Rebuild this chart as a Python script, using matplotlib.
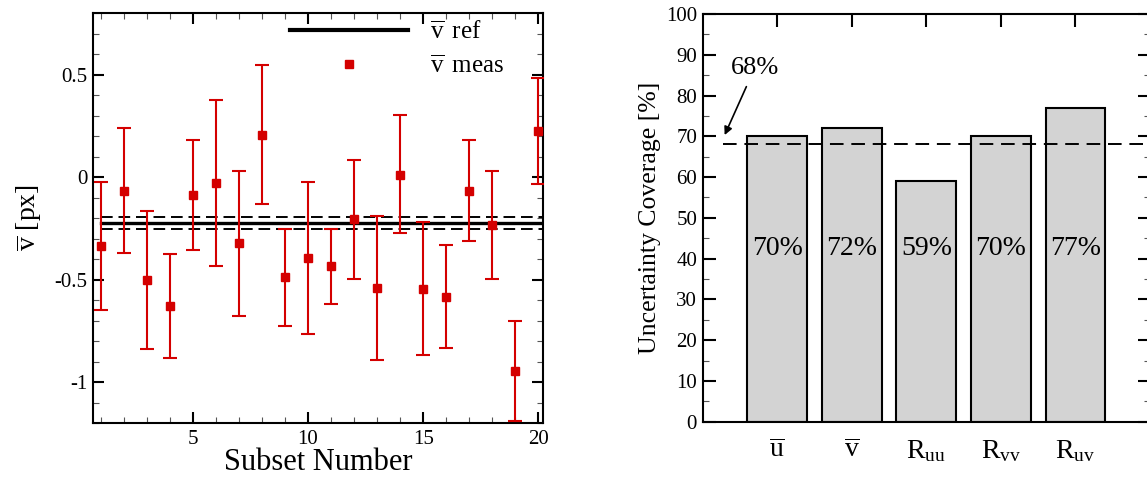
import numpy as np
import matplotlib
matplotlib.use("Agg")
import matplotlib.pyplot as plt
from matplotlib.ticker import MultipleLocator
from matplotlib.lines import Line2D

plt.rcParams['font.family'] = ['Liberation Serif', 'DejaVu Serif']
plt.rcParams['mathtext.fontset'] = 'custom'
plt.rcParams['mathtext.rm'] = 'Liberation Serif'
plt.rcParams['mathtext.it'] = 'Liberation Serif:italic'
plt.rcParams['axes.unicode_minus'] = False

# left panel: measured mean v per subset with error bars
subset = np.arange(1, 21)
v_meas = [-0.336, -0.066, -0.500, -0.631, -0.090, -0.030, -0.321, 0.207, -0.490, -0.393,
          -0.436, -0.207, -0.541, 0.011, -0.546, -0.585, -0.066, -0.234, -0.948, 0.223]
v_upper = [-0.026, 0.239, -0.164, -0.377, 0.179, 0.375, 0.030, 0.544, -0.252, -0.023,
           -0.252, 0.084, -0.189, 0.302, -0.218, -0.331, 0.182, 0.028, -0.702, 0.485]
v_lower = [-0.648, -0.369, -0.838, -0.884, -0.357, -0.433, -0.677, -0.131, -0.728, -0.764,
           -0.621, -0.497, -0.892, -0.275, -0.870, -0.834, -0.311, -0.497, -1.190, -0.036]
v_ref = -0.226
v_ref_band = [-0.195, -0.256]

# right panel: uncertainty coverage
quantities = [r'$\overline{\mathrm{u}}$', r'$\overline{\mathrm{v}}$',
              r'$\mathrm{R}_{\mathrm{uu}}$', r'$\mathrm{R}_{\mathrm{vv}}$', r'$\mathrm{R}_{\mathrm{uv}}$']
coverage = [70, 72, 59, 70, 77]
target = 68

red = '#d40000'

fig = plt.figure(figsize=(11.47, 4.78), dpi=100)
axL = fig.add_axes([0.0811, 0.115, 0.3923, 0.8578])
axR = fig.add_axes([0.6126, 0.1178, 0.390, 0.853])

# ---- left ----
v_meas = np.array(v_meas)
err = [v_meas - np.array(v_lower), np.array(v_upper) - v_meas]
axL.errorbar(subset, v_meas, yerr=err, fmt='s', color=red, ms=5.8, elinewidth=1.5,
             capsize=5, capthick=1.5, zorder=3)
axL.plot([1, 20.2], [v_ref, v_ref], color='black', lw=2.4, zorder=2)
for yb in v_ref_band:
    axL.plot([1, 20.2], [yb, yb], color='black', lw=1.4, dashes=(6, 3), zorder=2)

axL.set_xlim(0.67, 20.2)
axL.set_ylim(-1.2, 0.8)
axL.xaxis.set_major_locator(MultipleLocator(5))
axL.xaxis.set_minor_locator(MultipleLocator(1))
axL.yaxis.set_major_locator(MultipleLocator(0.5))
axL.yaxis.set_minor_locator(MultipleLocator(0.1))
axL.set_yticks([-1, -0.5, 0, 0.5])
axL.set_yticklabels(['-1', '-0.5', '0', '0.5'])
axL.tick_params(which='both', direction='in', top=True, right=True, labelsize=15)
axL.tick_params(which='major', length=8, width=1.5)
axL.tick_params(which='minor', length=4, width=0.8, color='#555555')
axL.tick_params(axis='x', pad=5)
axL.tick_params(axis='y', pad=4)
for s in axL.spines.values():
    s.set_linewidth(1.5)
axL.set_xlabel('Subset Number', fontsize=22)
axL.xaxis.set_label_coords(0.5, -0.062)
axL.set_ylabel(r'$\overline{\mathrm{v}}$ [px]', fontsize=20)
axL.yaxis.set_label_coords(-0.11, 0.5)

handles = [Line2D([], [], color='black', lw=3),
           Line2D([], [], color=red, marker='s', ls='none', ms=6)]
axL.legend(handles, [r'$\overline{\mathrm{v}}\,$ ref', r'$\overline{\mathrm{v}}\,$ meas'],
           loc='upper left', bbox_to_anchor=(0.438, 0.982), frameon=False,
           fontsize=18, handlelength=4.7, handletextpad=0.9, labelspacing=0.45,
           borderpad=0, borderaxespad=0, numpoints=1)

# ---- right ----
xpos = np.arange(1, len(coverage) + 1)
axR.bar(xpos, coverage, width=0.8, color='#d3d3d3', edgecolor='black', linewidth=1.5, zorder=2)
for x, c in zip(xpos, coverage):
    axR.text(x, 42.4, f'{c}%', ha='center', va='center', fontsize=20, zorder=3)
axR.plot([0.27, 6], [target, target], color='black', lw=1.4, dashes=(7, 4), zorder=3)
axR.annotate('68%', xy=(0.295, 70.3), xytext=(0.70, 86.8), fontsize=19,
             ha='center', va='center',
             arrowprops=dict(arrowstyle='-|>', color='black', lw=1.2,
                             shrinkA=4, shrinkB=0, mutation_scale=12))
axR.set_xlim(0, 6)
axR.set_ylim(0, 100)
axR.set_xticks(xpos)
axR.set_xticklabels(quantities, fontsize=20)
axR.yaxis.set_major_locator(MultipleLocator(10))
axR.yaxis.set_minor_locator(MultipleLocator(5))
axR.tick_params(which='both', direction='in', top=True, right=True)
axR.tick_params(which='major', length=9, width=1.5)
axR.tick_params(which='minor', length=4, width=0.8, color='#555555')
axR.tick_params(axis='y', labelsize=15, pad=4)
axR.tick_params(axis='x', pad=12)
for s in axR.spines.values():
    s.set_linewidth(1.5)
axR.set_ylabel('Uncertainty Coverage [%]', fontsize=18.5)
axR.yaxis.set_label_coords(-0.093, 0.5)

fig.savefig('out.png', dpi=100)
